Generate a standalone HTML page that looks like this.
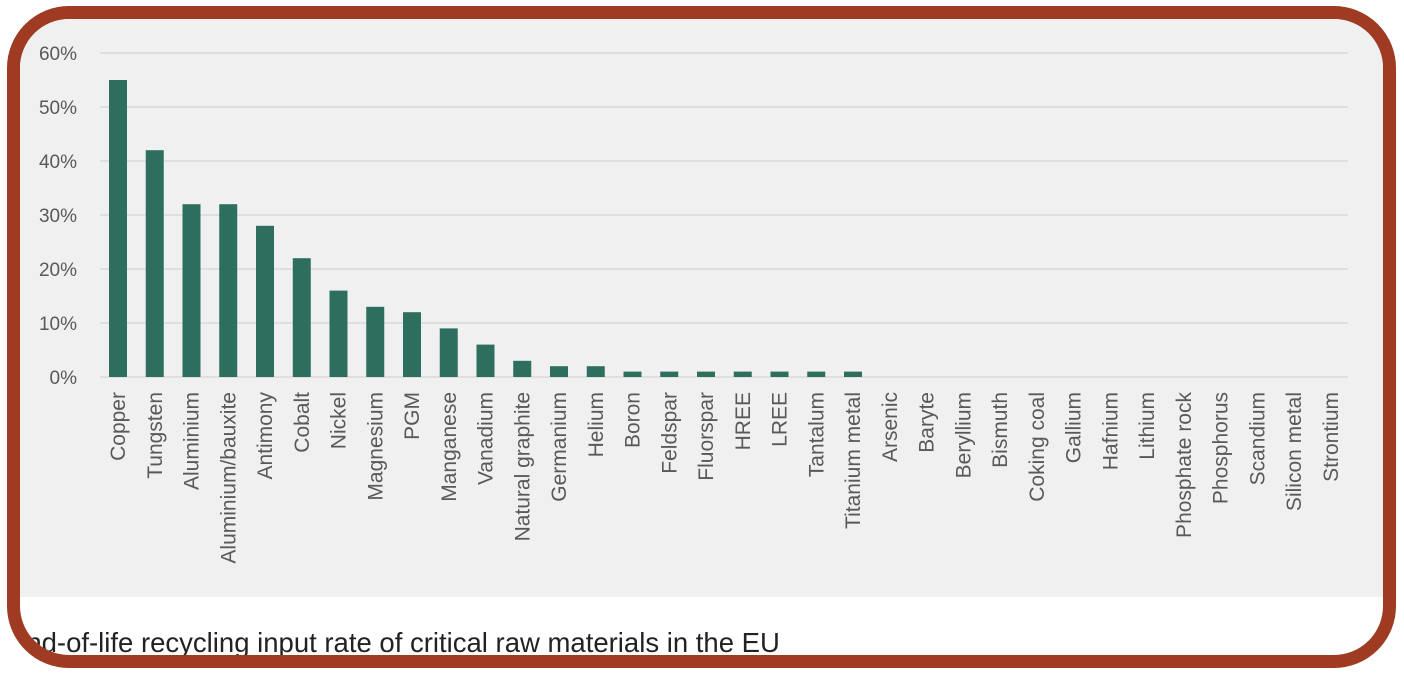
<!DOCTYPE html>
<html><head><style>
body{margin:0;background:#fff;width:1404px;height:678px;overflow:hidden;font-family:"Liberation Sans",sans-serif}
.wrap{position:absolute;left:7px;top:6px;width:1389px;height:662px;box-sizing:border-box;border:13px solid #9e3b22;border-radius:62px;overflow:hidden;background:#fff}
</style></head><body>
<div class="wrap">
<svg width="1404" height="678" style="position:absolute;left:-20px;top:-19px" font-family="Liberation Sans, sans-serif">
<rect x="0" y="0" width="1404" height="597" fill="#f0f0f0"/>
<g stroke="#d9d9d9" stroke-width="1.5">
<line x1="100" x2="1348" y1="53" y2="53"/><line x1="100" x2="1348" y1="107" y2="107"/>
<line x1="100" x2="1348" y1="161" y2="161"/><line x1="100" x2="1348" y1="215" y2="215"/>
<line x1="100" x2="1348" y1="269" y2="269"/><line x1="100" x2="1348" y1="323" y2="323"/>
<line x1="100" x2="1348" y1="377" y2="377"/>
</g>
<g fill="#595959" font-size="19" text-anchor="end">
<text x="77" y="60">60%</text><text x="77" y="114">50%</text><text x="77" y="168">40%</text>
<text x="77" y="222">30%</text><text x="77" y="276">20%</text><text x="77" y="330">10%</text><text x="77" y="384">0%</text>
</g>
<g id="bars" fill="#2e6e5e"></g>
<g id="labs" fill="#595959" font-size="21" text-anchor="end"></g>
<text x="8" y="652" font-size="27.5" fill="#222">End-of-life recycling input rate of critical raw materials in the EU</text>
</svg>
</div>
<script>
var n=["Copper","Tungsten","Aluminium","Aluminium/bauxite","Antimony","Cobalt","Nickel","Magnesium","PGM","Manganese","Vanadium","Natural graphite","Germanium","Helium","Boron","Feldspar","Fluorspar","HREE","LREE","Tantalum","Titanium metal","Arsenic","Baryte","Beryllium","Bismuth","Coking coal","Gallium","Hafnium","Lithium","Phosphate rock","Phosphorus","Scandium","Silicon metal","Strontium"];
var v=[55,42,32,32,28,22,16,13,12,9,6,3,2,2,1,1,1,1,1,1,1];
var b="",l="";
for(var i=0;i<n.length;i++){var cx=118+i*36.75;var h=(v[i]||0)*5.4;
if(h>0)b+='<rect x="'+(cx-9)+'" y="'+(377-h)+'" width="18" height="'+h+'"/>';
l+='<text transform="translate('+(cx+7)+',392) rotate(-90)">'+n[i]+'</text>';}
document.getElementById("bars").innerHTML=b;document.getElementById("labs").innerHTML=l;
</script>
</body></html>
